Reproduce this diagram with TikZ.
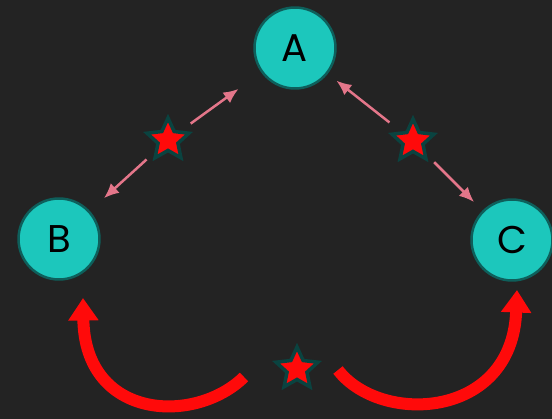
\documentclass[tikz,border=0pt]{standalone}
\usepackage{fontspec}
\setmainfont{Poppins}
\usetikzlibrary{shapes.geometric,arrows.meta}
\definecolor{bgdark}{HTML}{232323}
\definecolor{tealfill}{HTML}{1CC7BC}
\definecolor{tealedge}{HTML}{0E5F5B}
\definecolor{starred}{HTML}{FF0A0A}
\definecolor{pinkline}{HTML}{E4768A}
\tikzset{>={Latex[length=0.3cm,width=0.26cm]}}
\tikzset{
  vertex/.style={circle,fill=tealfill,draw=tealedge,line width=0.05cm,
    minimum size=1.62cm,inner sep=0pt,font=\fontsize{22}{22}\selectfont},
  redstar/.style={star,star points=5,star point ratio=2.1,fill=starred,
    draw=tealedge!70!black,line width=0.07cm,minimum size=0.88cm,inner sep=0pt},
  link/.style={->,pinkline,line width=0.05cm},
  swing/.style={-{Triangle[length=0.45cm,width=0.58cm]},starred,line width=0.24cm}
}

\begin{document}
\begin{tikzpicture}[x=0.02cm,y=-0.02cm]
            \fill[bgdark] (0,0) rectangle (552,419);
            \useasboundingbox (0,0) rectangle (552,419);
            \node[vertex] (A) at (295,48) {A};
            \node[vertex] (B) at (59,239) {B};
            \node[vertex] (C) at (512,240) {C};
            \node[redstar] (s1) at (168,140) {};
            \node[redstar] (s2) at (413,141) {};
            \node[redstar] (s3) at (297,369) {};
            \draw[link,shorten <=0.56cm,shorten >=0.56cm] (s1.center) -- (A);
            \draw[link,shorten <=0.58cm,shorten >=0.38cm] (s1.center) -- (B);
            \draw[link,shorten <=0.6cm,shorten >=0.22cm] (s2.center) -- (A);
            \draw[link,shorten <=0.6cm,shorten >=0.24cm] (s2.center) -- (C);
            \coordinate (tailB) at (244,377);
            \coordinate (tipB) at (83,298);
            \coordinate (tailC) at (338,370);
            \coordinate (tipC) at (517,290);
            \draw[swing] (tailB) .. controls (195,425) and (85,420) .. (tipB);
            \draw[swing] (tailC) .. controls (380,425) and (512,420) .. (tipC);
        \end{tikzpicture}
\end{document}
